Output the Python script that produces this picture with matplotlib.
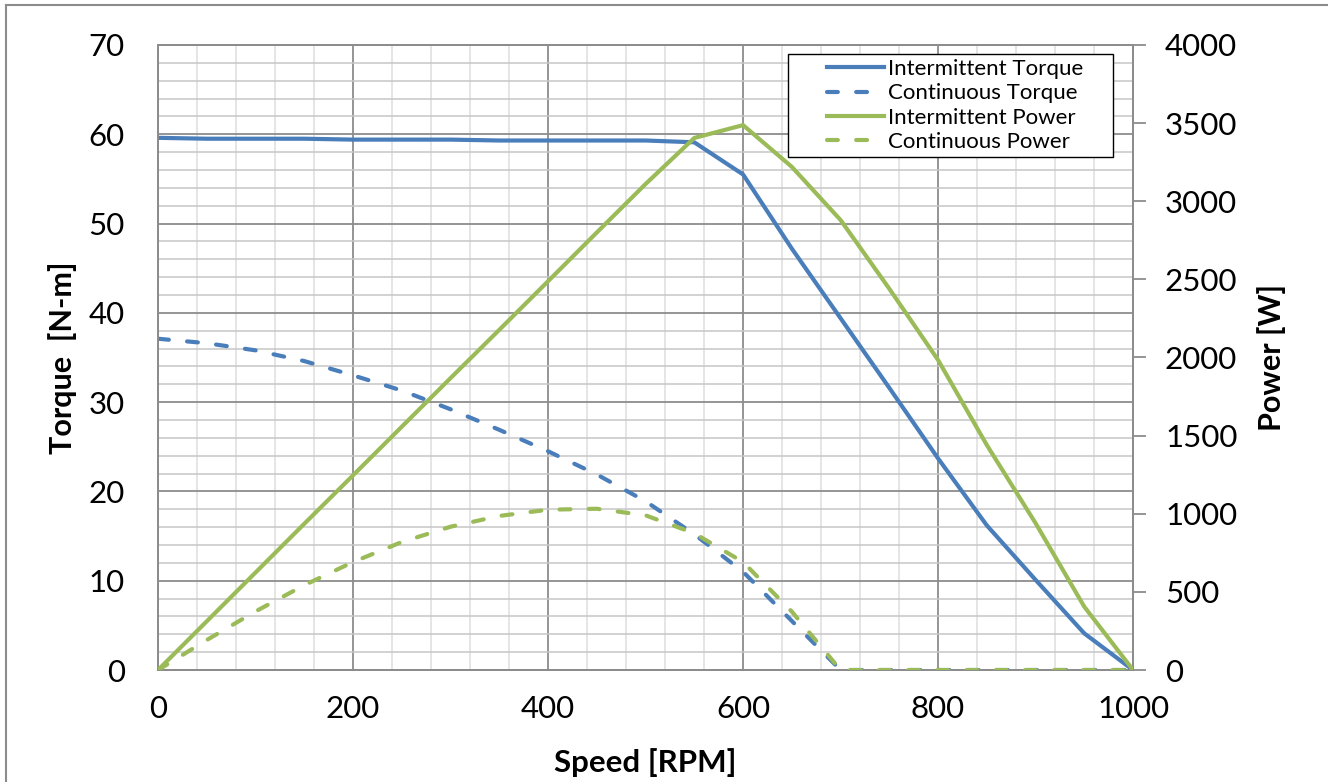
import numpy as np
import matplotlib
matplotlib.use("Agg")
import matplotlib.pyplot as plt
from matplotlib.ticker import MultipleLocator
from matplotlib.lines import Line2D
from matplotlib.legend_handler import HandlerLine2D

plt.rcParams['font.family'] = ['Lato', 'DejaVu Sans']

# speed points [RPM]
speed = [0, 50, 100, 150, 200, 250, 300, 350, 400, 450, 500,
         550, 600, 650, 700, 750, 800, 850, 900, 950, 1000]

# torque [N-m]
int_torque = [59.6, 59.5, 59.5, 59.5, 59.4, 59.4, 59.4, 59.3, 59.3, 59.3, 59.3,
              59.1, 55.5, 47.2, 39.4, 31.6, 23.7, 16.2, 10.1, 4.1, 0.0]
cont_torque = [37.1, 36.6, 35.8, 34.6, 33.0, 31.3, 29.2, 26.9, 24.5, 21.9, 18.9,
               15.2, 11.0, 5.5, 0.0, 0.0, 0.0, 0.0, 0.0, 0.0, 0.0]

# power [W]
int_power = [0, 312, 624, 936, 1246, 1557, 1868, 2177, 2488, 2800, 3110,
             3405, 3487, 3220, 2880, 2440, 1984, 1440, 940, 405, 0]
cont_power = [0, 192, 375, 543, 691, 819, 917, 986, 1026, 1032, 990,
              875, 691, 374, 0, 0, 0, 0, 0, 0, 0]

blue = '#4a7ebb'
green = '#9bbb59'
major_c = '#8c8c8c'


class RightLine(HandlerLine2D):
    # legend line sits in the right part of the handle box
    def get_xdata(self, legend, xdescent, ydescent, width, height, fontsize):
        x1 = -xdescent + width
        x0 = x1 - 0.62 * width
        return np.array([x0, x1]), np.array([x0, x1])


fig = plt.figure(figsize=(13.28, 7.82), dpi=100)
ax = fig.add_axes([0.119, 0.1432, 0.7342, 0.7993])
ax2 = ax.twinx()

ax.set_xlim(0, 1000)
ax.set_ylim(0, 70)
ax2.set_ylim(0, 4000)

ax.xaxis.set_major_locator(MultipleLocator(200))
ax.xaxis.set_minor_locator(MultipleLocator(40))
ax.yaxis.set_major_locator(MultipleLocator(10))
ax.yaxis.set_minor_locator(MultipleLocator(2))
ax2.yaxis.set_major_locator(MultipleLocator(500))

ax.grid(which='major', axis='both', color=major_c, lw=1.3)
ax.grid(which='minor', axis='y', color='#c6c6c6', lw=1.1)
ax.grid(which='minor', axis='x', color='#dedede', lw=1.1)
ax.set_axisbelow(True)

lw = 3.0
dash = (2.6, 4.4)
ax.plot(speed, int_torque, color=blue, lw=lw, solid_capstyle='round',
        solid_joinstyle='round', zorder=3)
ax.plot(speed, cont_torque, color=blue, lw=lw, dashes=dash,
        dash_capstyle='round', zorder=3)
ax2.plot(speed, int_power, color=green, lw=lw, solid_capstyle='round',
         solid_joinstyle='round', zorder=3)
ax2.plot(speed, cont_power, color=green, lw=lw, dashes=dash,
         dash_capstyle='round', zorder=3)

for a in (ax, ax2):
    for s in a.spines.values():
        s.set_color(major_c)
        s.set_linewidth(1.3)

ax.tick_params(axis='both', which='both', length=0, labelsize=22.5)
ax.tick_params(axis='y', pad=24)
ax.tick_params(axis='x', pad=18)
ax2.tick_params(axis='y', which='major', direction='out', length=9,
                color=major_c, width=1.3, labelsize=22.5, pad=14)

ax.set_xlabel('Speed [RPM]', fontsize=22.5, fontweight='bold', labelpad=18)
ax.set_ylabel('Torque  [N-m]', fontsize=22, fontweight='bold', labelpad=8)
ax2.set_ylabel('Power [W]', fontsize=22, fontweight='bold', labelpad=14)

handles = [
    Line2D([], [], color=blue, lw=lw),
    Line2D([], [], color=blue, lw=lw, dashes=dash, dash_capstyle='round'),
    Line2D([], [], color=green, lw=lw),
    Line2D([], [], color=green, lw=lw, dashes=dash, dash_capstyle='round'),
]
labels = ['Intermittent Torque', 'Continuous Torque',
          'Intermittent Power', 'Continuous Power']
leg = ax2.legend(handles, labels, loc='upper left',
                 bbox_to_anchor=(0.646, 0.5, 0.3335, 0.4856), mode='expand',
                 fontsize=16, frameon=True, fancybox=False, edgecolor='black',
                 framealpha=1, handlelength=4.1, handletextpad=0.2,
                 borderpad=0.22, labelspacing=0.2, borderaxespad=0,
                 handler_map={Line2D: RightLine()})
leg.get_frame().set_linewidth(1.0)
leg.set_zorder(10)

# outer chart border (partly visible)
fig.add_artist(Line2D([0.0045, 0.0045], [0.0, 0.994], color='#8c8c8c', lw=1.5))
fig.add_artist(Line2D([0.0045, 1.0], [0.994, 0.994], color='#8c8c8c', lw=1.5))

fig.savefig('out.png', dpi=100)
